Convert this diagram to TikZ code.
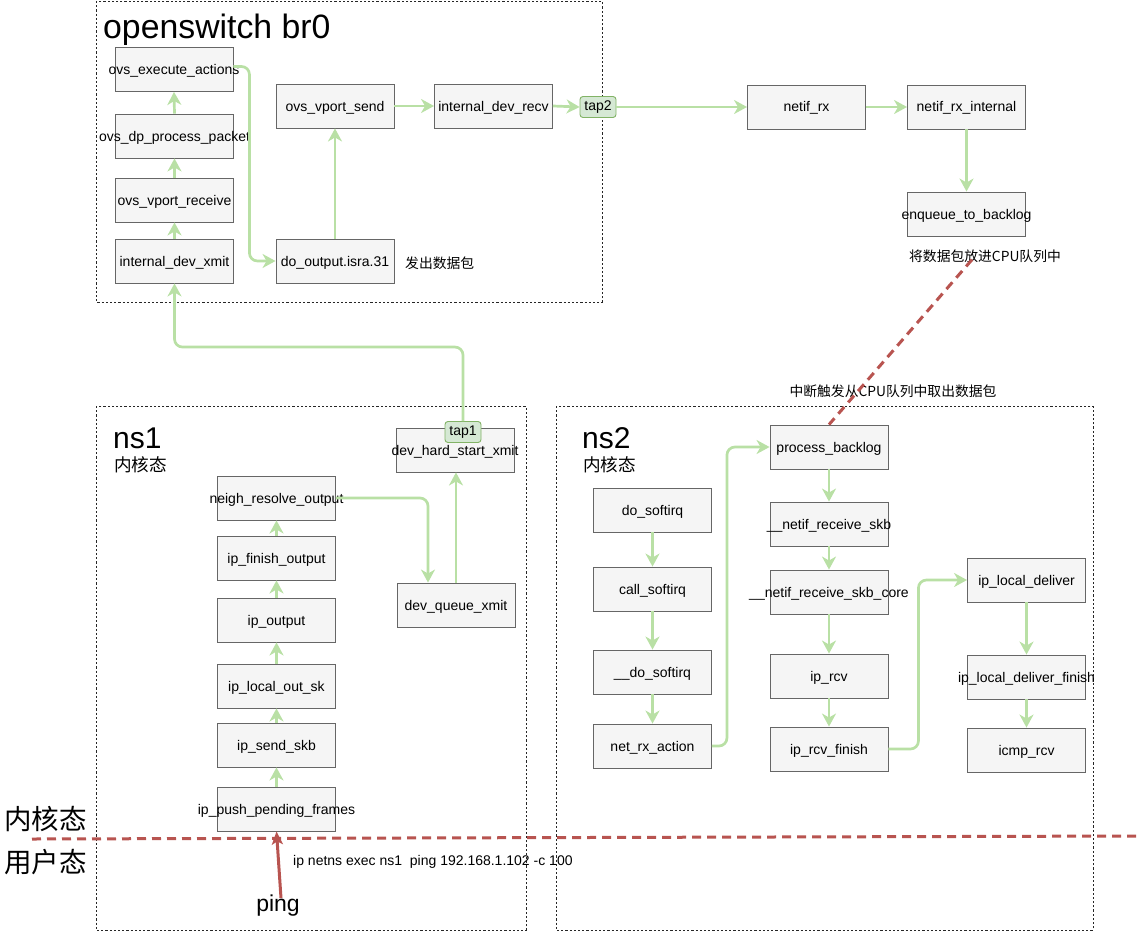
\documentclass[tikz,border=0pt]{standalone}
\usepackage{fontspec}
\setmainfont{Liberation Sans}
\newfontfamily\cjk{Noto Sans CJK SC}
\usetikzlibrary{arrows.meta}
\definecolor{gline}{HTML}{B9E0A5}
\definecolor{boxfill}{HTML}{F5F5F5}
\definecolor{boxdraw}{HTML}{666666}
\definecolor{tapfill}{HTML}{D5E8D4}
\definecolor{tapdraw}{HTML}{82B366}
\definecolor{redl}{HTML}{B85450}
\tikzset{
  fn/.style={draw=boxdraw, fill=boxfill, line width=0.9pt, minimum width=118pt, minimum height=44pt, inner sep=0pt,
    text height=11.5pt, text depth=1.5pt,
    font=\fontsize{14}{16}\selectfont,
    execute at begin node={\hbox to 0pt\bgroup\hss},
    execute at end node={\hss\egroup}},
  tapbox/.style={draw=tapdraw, fill=tapfill, line width=0.9pt, rounded corners=3pt, minimum width=36pt, minimum height=21pt, inner sep=1pt,
    font=\fontsize{14}{16}\selectfont},
  garrow/.style={draw=gline, line width=2.7pt, -{Stealth[length=13pt,width=14pt,inset=4pt]}, rounded corners=8pt},
  container/.style={draw=black!85, line width=0.8pt, dash pattern=on 2.2pt off 2pt},
  reddash/.style={draw=redl, line width=3pt, dash pattern=on 9pt off 6pt},
  note/.style={font=\cjk\fontsize{13.8}{16}\selectfont, inner sep=0pt},
  plain/.style={font=\fontsize{14}{16}\selectfont, inner sep=0pt},
}
\begin{document}
\begin{tikzpicture}[x=1pt,y=-1pt]
\useasboundingbox (0,0) rectangle (1139,931);
% containers
\draw[container] (96,1) rectangle (602,302);
\draw[container] (96,406) rectangle (526,930);
\draw[container] (556,406) rectangle (1093,930);

% titles
\node[anchor=west, inner sep=0pt, font=\fontsize{33.8}{38}\selectfont] (tbr) at (103,30) {openswitch br0};
\node[anchor=west, inner sep=0pt, font=\fontsize{30}{34}\selectfont] (tns1) at (113,438) {ns1};
\node[anchor=west, inner sep=0pt, font=\cjk\fontsize{17.6}{20}\selectfont] (kns1) at (114,465) {内核态};
\node[anchor=west, inner sep=0pt, font=\fontsize{30}{34}\selectfont] (tns2) at (582,438) {ns2};
\node[anchor=west, inner sep=0pt, font=\cjk\fontsize{17.6}{20}\selectfont] (kns2) at (583,465) {内核态};

% br0 nodes
\node[fn] (exec) at (174,69.5) {ovs\_execute\_actions};
\node[fn] (dpp) at (174.5,136) {ovs\_dp\_process\_packet};
\node[fn] (vrecv) at (174.5,200) {ovs\_vport\_receive};
\node[fn] (idx) at (174.5,261) {internal\_dev\_xmit};
\node[fn] (vsend) at (335,106) {ovs\_vport\_send};
\node[fn] (idr) at (493.5,106) {internal\_dev\_recv};
\node[fn] (dout) at (335,261) {do\_output.isra.31};
\node[note, anchor=west] (fachu) at (405,263) {发出数据包};
\node[tapbox] (tap2) at (598,107) {tap2};
\node[fn] (nrx) at (806.5,107) {netif\_rx};
\node[fn] (nrxi) at (966.5,107) {netif\_rx\_internal};
\node[fn] (enq) at (966.5,214) {enqueue\_to\_backlog};
\node[note] (enqnote) at (985,256) {将数据包放进CPU队列中};
\node[note] (irqnote) at (893,391) {中断触发从CPU队列中取出数据包};

% ns1 nodes
\node[fn] (dhs) at (455,450) {dev\_hard\_start\_xmit};
\node[tapbox] (tap1) at (463,432) {tap1};
\node[fn] (neigh) at (276.5,498) {neigh\_resolve\_output};
\node[fn] (ifo) at (276.5,558) {ip\_finish\_output};
\node[fn] (ipo) at (276.5,620) {ip\_output};
\node[fn] (ilo) at (276.5,686) {ip\_local\_out\_sk};
\node[fn] (isk) at (276.5,745) {ip\_send\_skb};
\node[fn] (ipp) at (276.5,809) {ip\_push\_pending\_frames};
\node[fn] (dq) at (456,605) {dev\_queue\_xmit};

% ns2 nodes
\node[fn] (dsi) at (652.5,510) {do\_softirq};
\node[fn] (csi) at (652.5,589) {call\_softirq};
\node[fn] (udsi) at (652.5,672) {\_\_do\_softirq};
\node[fn] (nra) at (652.5,746) {net\_rx\_action};
\node[fn] (pb) at (829,447) {process\_backlog};
\node[fn] (nrs) at (829,524) {\_\_netif\_receive\_skb};
\node[fn] (nrsc) at (829,592) {\_\_netif\_receive\_skb\_core};
\node[fn] (ircv) at (829,676) {ip\_rcv};
\node[fn] (irf) at (829,749) {ip\_rcv\_finish};
\node[fn] (ild) at (1026.5,580) {ip\_local\_deliver};
\node[fn] (ildf) at (1026.5,677) {ip\_local\_deliver\_finish};
\node[fn] (icmp) at (1026.5,750) {icmp\_rcv};

% user / kernel labels
\node[anchor=west, inner sep=0pt, font=\cjk\fontsize{27.5}{31}\selectfont] (kern) at (4,819) {内核态};
\node[anchor=west, inner sep=0pt, font=\cjk\fontsize{27.5}{31}\selectfont] (user) at (4,862) {用户态};
\node[plain, anchor=west] (cmd) at (293,862) {ip netns exec ns1\ \ ping 192.168.1.102 -c 100};
\node[inner sep=0pt, font=\fontsize{23}{27}\selectfont] (ping) at (278,906) {ping};

% green connectors br0
\draw[garrow] (idx.north) -- (vrecv.south);
\draw[garrow] (vrecv.north) -- (dpp.south);
\draw[garrow] (dpp.north) -- (exec.south);
\draw[garrow] ([yshift=3pt]exec.east) -- ++(16,0) |- (dout.west);
\draw[garrow] (dout.north) -- (vsend.south);
\draw[garrow] (vsend.east) -- (idr.west);
\draw[garrow] (idr.east) -- (tap2.west);
\draw[garrow] (tap2.east) -- (nrx.west);
\draw[garrow] (nrx.east) -- (nrxi.west);
\draw[garrow] (nrxi.south) -- (enq.north);

% ns1 connectors
\draw[garrow] (ipp.north) -- (isk.south);
\draw[garrow] (isk.north) -- (ilo.south);
\draw[garrow] (ilo.north) -- (ipo.south);
\draw[garrow] (ipo.north) -- (ifo.south);
\draw[garrow] (ifo.north) -- (neigh.south);
\draw[garrow] (neigh.east) -| ([xshift=-28pt]dq.north);
\draw[garrow] (dq.north) -- (dhs.south -| dq.north);
\draw[garrow] (tap1.north) -- ++(0,-74) -| (idx.south);

% ns2 connectors
\draw[garrow] (dsi.south) -- (csi.north);
\draw[garrow] (csi.south) -- (udsi.north);
\draw[garrow] (udsi.south) -- (nra.north);
\draw[garrow] (nra.east) -- ++(15,0) |- (pb.west);
\draw[garrow] (pb.south) -- (nrs.north);
\draw[garrow] (nrs.south) -- (nrsc.north);
\draw[garrow] (nrsc.south) -- (ircv.north);
\draw[garrow] (ircv.south) -- (irf.north);
\draw[garrow] (irf.east) -- ++(30,0) |- (ild.west);
\draw[garrow] (ild.south) -- (ildf.north);
\draw[garrow] (ildf.south) -- (icmp.north);

% red lines
\draw[reddash] ([xshift=-13pt,yshift=3pt]enqnote.south) -- (pb.north);
\coordinate (uL) at (32,839);
\coordinate (uR) at (1139,836);
\draw[reddash] (uL) -- (uR);
\draw[draw=redl, line width=3pt, -{Stealth[length=13pt,width=11pt,inset=3pt]}] ([xshift=3pt,yshift=-3pt]ping.north) -- (ipp.south);
\end{tikzpicture}
\end{document}
